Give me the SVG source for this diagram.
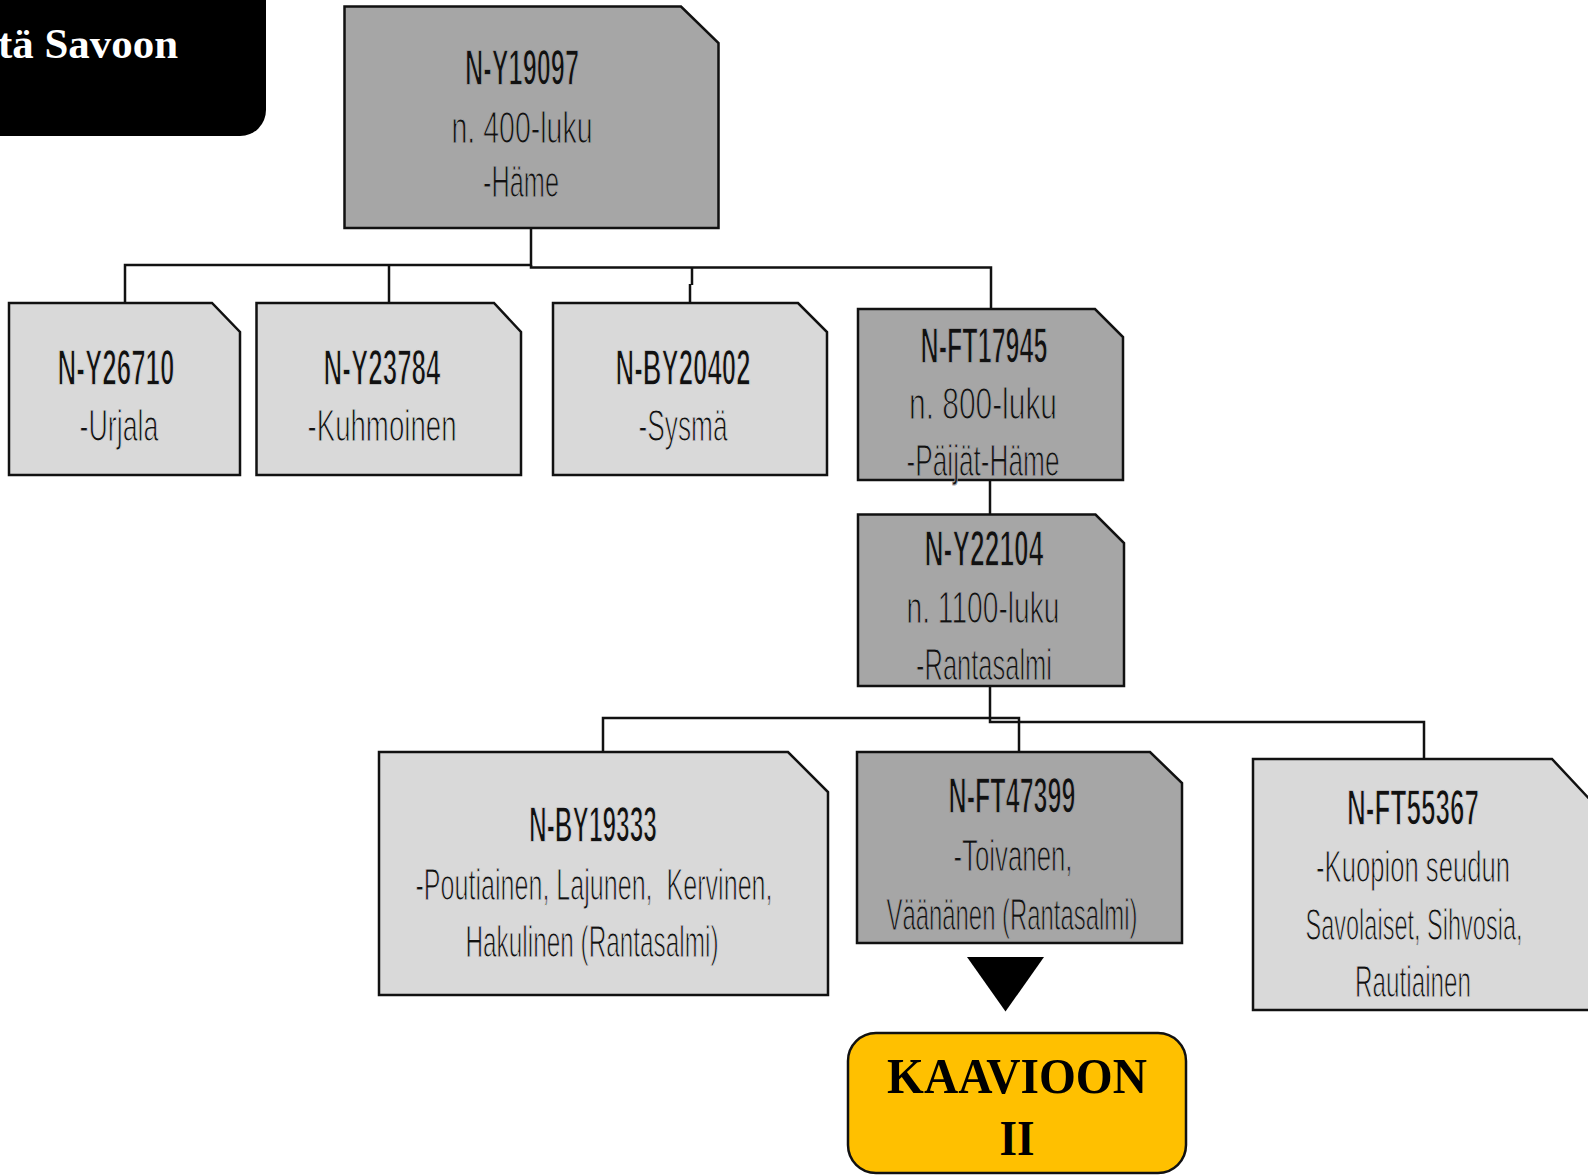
<svg xmlns="http://www.w3.org/2000/svg" width="1588" height="1175" viewBox="0 0 1588 1175">
<style>
.box{stroke:#111;stroke-width:2.5;stroke-linejoin:miter}
.dark{fill:#a6a6a6}
.light{fill:#d9d9d9}
.con{fill:none;stroke:#111;stroke-width:2.5}
.t1{font-family:"Liberation Sans Narrow","Liberation Sans",sans-serif;font-weight:bold;font-size:50px;fill:#111;text-anchor:middle;white-space:pre}
.t2{font-family:"Liberation Sans Narrow","Liberation Sans",sans-serif;font-size:45px;fill:#111;text-anchor:middle;white-space:pre}
.dark .t1,.dark .t2{stroke:#a6a6a6}
.light .t1,.light .t2{stroke:#d9d9d9}
.t1{stroke-width:1.6}
.t2{stroke-width:1.2}
.serif{font-family:"Liberation Serif",serif;font-weight:bold}
</style>
<rect width="1588" height="1175" fill="#fff"/>
<g id="title">
<rect x="-40" y="-40" width="306" height="176" rx="26" fill="#000"/>
<text class="serif" x="178" y="58" font-size="42" fill="#fff" text-anchor="end" textLength="180" lengthAdjust="spacingAndGlyphs">tä Savoon</text>
</g>
<g id="connectors">
<path class="con" d="M531,228 V265 H125 V303"/>
<path class="con" d="M531,265 V267.5 H991 V309"/>
<path class="con" d="M389,266 V303"/>
<path class="con" d="M692,267 V285 M690,284 V303"/>
<path class="con" d="M990,480 V514.5"/>
<path class="con" d="M990,686 V722 H1424 V759"/>
<path class="con" d="M603,752 V718 H1019 V752"/>
</g>
<g id="n-y19097" class="dark">
<path class="box" d="M344.5,6.5 H681 L718.5,43 V228 H344.5 Z"/>
<text class="t1" x="522" y="85" textLength="114" lengthAdjust="spacingAndGlyphs">N-Y19097</text>
<text class="t2" x="522" y="143" textLength="141" lengthAdjust="spacingAndGlyphs">n. 400-luku</text>
<text class="t2" x="521" y="197" textLength="76" lengthAdjust="spacingAndGlyphs">-Häme</text>
</g>
<g id="n-y26710" class="light">
<path class="box" d="M9,303 H212 L240,332 V475 H9 Z"/>
<text class="t1" x="116" y="385" textLength="117" lengthAdjust="spacingAndGlyphs">N-Y26710</text>
<text class="t2" x="119" y="441" textLength="79" lengthAdjust="spacingAndGlyphs">-Urjala</text>
</g>
<g id="n-y23784" class="light">
<path class="box" d="M256.5,303 H494 L521,332 V475 H256.5 Z"/>
<text class="t1" x="382" y="385" textLength="117" lengthAdjust="spacingAndGlyphs">N-Y23784</text>
<text class="t2" x="382" y="441" textLength="149" lengthAdjust="spacingAndGlyphs">-Kuhmoinen</text>
</g>
<g id="n-by20402" class="light">
<path class="box" d="M553,303 H798 L827,332 V475 H553 Z"/>
<text class="t1" x="683" y="385" textLength="135" lengthAdjust="spacingAndGlyphs">N-BY20402</text>
<text class="t2" x="683" y="441" textLength="89" lengthAdjust="spacingAndGlyphs">-Sysmä</text>
</g>
<g id="n-ft17945" class="dark">
<path class="box" d="M858,309 H1095 L1123,337 V480 H858 Z"/>
<text class="t1" x="984" y="363" textLength="127" lengthAdjust="spacingAndGlyphs">N-FT17945</text>
<text class="t2" x="983" y="419" textLength="148" lengthAdjust="spacingAndGlyphs">n. 800-luku</text>
<text class="t2" x="983" y="476" textLength="153" lengthAdjust="spacingAndGlyphs">-Päijät-Häme</text>
</g>
<g id="n-y22104" class="dark">
<path class="box" d="M858,514.5 H1095.5 L1124,543 V686 H858 Z"/>
<text class="t1" x="984" y="566" textLength="119" lengthAdjust="spacingAndGlyphs">N-Y22104</text>
<text class="t2" x="983" y="623" textLength="153" lengthAdjust="spacingAndGlyphs">n. 1100-luku</text>
<text class="t2" x="984" y="680" textLength="136" lengthAdjust="spacingAndGlyphs">-Rantasalmi</text>
</g>
<g id="n-by19333" class="light">
<path class="box" d="M379,752 H788 L828,792 V995 H379 Z"/>
<text class="t1" x="593" y="842" textLength="128" lengthAdjust="spacingAndGlyphs">N-BY19333</text>
<text class="t2" x="594" y="900" textLength="357" lengthAdjust="spacingAndGlyphs">-Poutiainen, Lajunen,  Kervinen,</text>
<text class="t2" x="592" y="957" textLength="253" lengthAdjust="spacingAndGlyphs">Hakulinen (Rantasalmi)</text>
</g>
<g id="n-ft47399" class="dark">
<path class="box" d="M857,752 H1150 L1182,783 V943 H857 Z"/>
<text class="t1" x="1012" y="813" textLength="127" lengthAdjust="spacingAndGlyphs">N-FT47399</text>
<text class="t2" x="1013" y="871" textLength="119" lengthAdjust="spacingAndGlyphs">-Toivanen,</text>
<text class="t2" x="1012" y="930" textLength="251" lengthAdjust="spacingAndGlyphs">Väänänen (Rantasalmi)</text>
</g>
<g id="n-ft55367" class="light">
<path class="box" d="M1253,759 H1552 L1595,805 V1010 H1253 Z"/>
<text class="t1" x="1413" y="825" textLength="132" lengthAdjust="spacingAndGlyphs">N-FT55367</text>
<text class="t2" x="1413" y="882" textLength="194" lengthAdjust="spacingAndGlyphs">-Kuopion seudun</text>
<text class="t2" x="1414" y="940" textLength="217" lengthAdjust="spacingAndGlyphs">Savolaiset, Sihvosia,</text>
<text class="t2" x="1413" y="997" textLength="116" lengthAdjust="spacingAndGlyphs">Rautiainen</text>
</g>
<g id="arrow">
<polygon points="967,957 1044,957 1005.5,1011.5" fill="#000"/>
</g>
<g id="kaavioon">
<rect class="box" x="848" y="1033" width="338" height="140" rx="28" fill="#ffc000"/>
<text class="serif" x="1017" y="1093" font-size="50" fill="#000" text-anchor="middle" textLength="260" lengthAdjust="spacingAndGlyphs">KAAVIOON</text>
<text class="serif" x="1017" y="1155" font-size="50" fill="#000" text-anchor="middle" textLength="35" lengthAdjust="spacingAndGlyphs">II</text>
</g>
</svg>
